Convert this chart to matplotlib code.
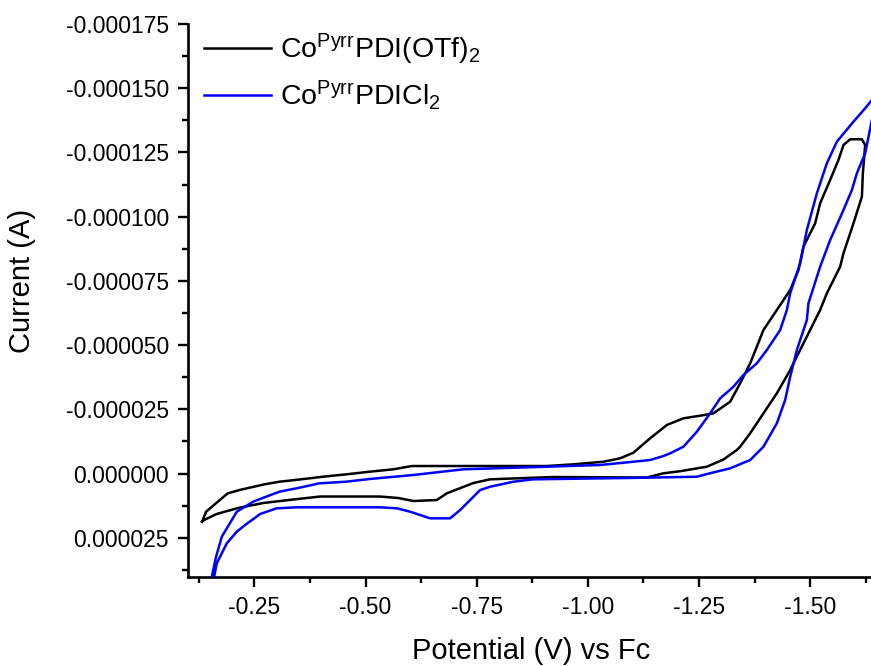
import numpy as np
import matplotlib
matplotlib.use("Agg")
import matplotlib.pyplot as plt
from matplotlib.ticker import MultipleLocator, FuncFormatter

plt.rcParams['font.family'] = ['Liberation Sans', 'DejaVu Sans']
plt.rcParams['mathtext.default'] = 'regular'

# ---- data: potential (V vs Fc) and current (microamps) ----
otf_E = [-0.1323, -0.1413, -0.1677, -0.1902, -0.2163, -0.2725, -0.3062, -0.3551, -0.4039,
         -0.4637, -0.5087, -0.5627, -0.6041, -0.9078, -0.9677, -1.0351, -1.0727, -1.1026,
         -1.1402, -1.1778, -1.2151, -1.2527, -1.2826, -1.3202, -1.3427, -1.3652, -1.3802,
         -1.3951, -1.4252, -1.4552, -1.4738, -1.4851, -1.5114, -1.5226, -1.5451, -1.5638,
         -1.5751, -1.5901, -1.6165, -1.6239, -1.6187, -1.6165, -1.5976, -1.5751, -1.5676,
         -1.5377, -1.5226, -1.4851, -1.4552, -1.4252, -1.3951, -1.3652, -1.3427, -1.3352,
         -1.3051, -1.2678, -1.2077, -1.1701, -1.1328, -0.9227, -0.7803, -0.7427, -0.6828,
         -0.6603, -0.6077, -0.5740, -0.5328, -0.3978, -0.3371, -0.2696, -0.2133, -0.1650,
         -0.1346, -0.1323]
otf_I = [18.77, 14.87, 10.98, 7.71, 6.43, 4.21, 3.19, 2.26, 1.25,
         0.19, -0.70, -1.64, -2.92, -2.92, -3.58, -4.59, -5.92, -8.10,
         -13.71, -18.89, -21.49, -22.51, -23.44, -27.96, -35.12, -42.91, -49.38,
         -55.88, -63.67, -71.45, -79.24, -88.32, -97.43, -105.22, -114.29, -122.08,
         -127.92, -130.14, -130.14, -127.92, -116.90, -107.79, -97.43, -85.75, -80.53,
         -70.17, -63.67, -50.70, -40.30, -31.23, -23.44, -15.65, -10.44, -9.15,
         -5.45, -2.65, -0.90, -0.08, 1.56, 1.36, 2.26, 3.70, 7.71,
         10.32, 10.71, 9.54, 8.96, 8.96, 10.12, 11.49, 13.43, 15.77,
         18.30, 18.77]

cl_E = [-0.1520, -0.1542, -0.1638, -0.1767, -0.1938, -0.2104, -0.2471, -0.2763, -0.3062,
        -0.3512, -0.3962, -0.4563, -0.5087, -0.6077, -0.6603, -0.7202, -0.9078, -1.0277,
        -1.1026, -1.1402, -1.1701, -1.1852, -1.2151, -1.2453, -1.2752, -1.2977, -1.3276,
        -1.3501, -1.3802, -1.4027, -1.4327, -1.4477, -1.4552, -1.4702, -1.4777, -1.4927,
        -1.5152, -1.5377, -1.5602, -1.5976, -1.6239, -1.6390, -1.6531, -1.6390, -1.6239,
        -1.6052, -1.5940, -1.5751, -1.5451, -1.5226, -1.4963, -1.4927, -1.4702, -1.4552,
        -1.4439, -1.4252, -1.3951, -1.3652, -1.3202, -1.2678, -1.2453, -1.0878, -0.8777,
        -0.8327, -0.7803, -0.7578, -0.7353, -0.7128, -0.6903, -0.6453, -0.6228, -0.6003,
        -0.5704, -0.5328, -0.3449, -0.2999, -0.2628, -0.2291, -0.2104, -0.1879, -0.1654,
        -0.1593, -0.1520]
cl_I = [49.26, 40.19, 32.40, 24.61, 19.66, 14.87, 10.98, 9.03, 7.09,
        5.53, 3.82, 3.19, 2.14, 0.58, -0.47, -1.64, -2.65, -3.31,
        -4.59, -5.26, -6.81, -7.87, -10.44, -16.28, -23.44, -29.28, -33.80,
        -38.36, -42.91, -48.09, -55.88, -63.67, -70.17, -77.96, -81.85, -94.82,
        -109.11, -120.79, -129.20, -136.99, -142.21, -145.44, -147.78, -137.65, -124.69,
        -116.90, -110.40, -102.61, -90.92, -80.53, -66.28, -59.77, -48.09, -37.69,
        -28.62, -19.55, -10.44, -5.26, -2.02, 0.19, 1.25, 1.75, 2.26,
        3.19, 5.14, 6.43, 10.32, 14.21, 17.45, 17.45, 16.16, 14.87,
        13.55, 13.16, 13.16, 13.55, 15.77, 20.05, 22.66, 27.18, 34.97,
        40.30, 49.26]

labels = [r'Co$^{Pyrr}$PDI(OTf)$_2$', r'Co$^{Pyrr}$PDICl$_2$']
colors = ['#000000', '#0000ff']

x_major = [-0.25, -0.50, -0.75, -1.00, -1.25, -1.50]

fig = plt.figure(figsize=(8.71, 6.66), dpi=100)
ax = fig.add_axes([0.2155, 0.1336, 0.7845, 0.8303])

ax.plot(otf_E, np.array(otf_I) * 1e-6, color=colors[0], lw=1.8, label=labels[0], zorder=2)
ax.plot(cl_E, np.array(cl_I) * 1e-6, color=colors[1], lw=1.8, label=labels[1], zorder=3)

ax.set_xlim(-0.100, -1.637)
ax.set_ylim(40.3e-6, -175e-6)

ax.set_xticks(x_major)
ax.xaxis.set_minor_locator(MultipleLocator(0.125))
ax.xaxis.set_major_formatter(FuncFormatter(lambda v, p: '%.2f' % v))
ax.yaxis.set_major_locator(MultipleLocator(25e-6))
ax.yaxis.set_minor_locator(MultipleLocator(12.5e-6))

def yfmt(v, p):
    if abs(v) < 1e-12:
        v = 0.0
    return '%.6f' % v

ax.yaxis.set_major_formatter(FuncFormatter(yfmt))

for s in ['top', 'right']:
    ax.spines[s].set_visible(False)
for s in ['left', 'bottom']:
    ax.spines[s].set_linewidth(1.9)

ax.tick_params(axis='both', which='major', direction='out', length=7.5, width=1.7,
               labelsize=16.5, pad=6)
ax.tick_params(axis='both', which='minor', direction='out', length=4.5, width=1.7)

ax.set_xlabel('Potential (V) vs Fc', fontsize=21)
ax.set_ylabel('Current (A)', fontsize=21)
ax.xaxis.set_label_coords(0.503, -0.108)
ax.yaxis.set_label_coords(-0.222, 0.535)

leg = ax.legend(loc='upper left', bbox_to_anchor=(0.024, 0.986), frameon=False,
                fontsize=20.5, handlelength=2.35, handletextpad=0.3, borderpad=0,
                labelspacing=0.4, borderaxespad=0)
for h in leg.get_lines():
    h.set_linewidth(1.8)

fig.savefig('out.png', dpi=100)
